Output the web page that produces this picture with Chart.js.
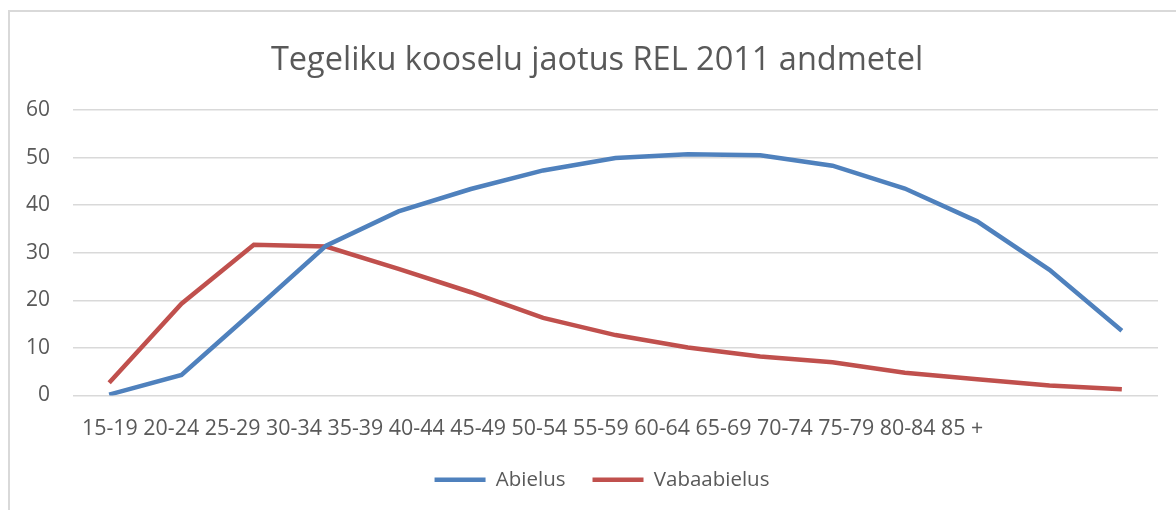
<!DOCTYPE html>
<html>
<head>
<meta charset="utf-8">
<script src="https://cdn.jsdelivr.net/npm/chart.js@4"></script>
<style>
    html, body { margin: 0; padding: 0; background: #ffffff; }
    #wrap { position: relative; width: 1176px; height: 510px; overflow: hidden; }
    #frame {
        position: absolute; left: 8px; top: 10px; right: -4px; bottom: -4px;
        border-left: 2px solid #d9d9d9; border-top: 2px solid #d9d9d9;
        pointer-events: none;
    }
</style>
</head>
<body>
<div id="wrap">
    <canvas id="line-plot" width="1176" height="510"></canvas>
    <div id="frame"></div>
</div>
<script>
const titleText = 'Tegeliku kooselu jaotus REL 2011 andmetel';
const categories = ['15-19', '20-24', '25-29', '30-34', '35-39', '40-44', '45-49', '50-54',
    '55-59', '60-64', '65-69', '70-74', '75-79', '80-84', '85 +'];
const abielus = [0.2, 4.3, 17.8, 31.5, 38.7, 43.4, 47.3, 49.9, 50.7, 50.5, 48.3, 43.5, 36.6, 26.4, 13.6];
const vabaabielus = [2.7, 19.3, 31.7, 31.3, 26.6, 21.7, 16.3, 12.7, 10.1, 8.2, 7.0, 4.8, 3.4, 2.1, 1.3];
const yTicks = [0, 10, 20, 30, 40, 50, 60];

const textColor = '#595959';
const fontFamily = '"Open Sans", "Liberation Sans", sans-serif';

// the category labels sit in one run of text under the plot, not under the points
const categoryText = {
    id: 'categoryText',
    afterLayout(chart) {
        // title and legend are centred on the whole frame, not on the plot
        chart.titleBlock.left += 18;
        chart.titleBlock.right += 18;
        chart.legend.left += 23;
        chart.legend.right += 23;
    },
    afterDraw(chart) {
        const ctx = chart.ctx;
        ctx.save();
        ctx.font = '21.4px ' + fontFamily;
        ctx.fillStyle = textColor;
        ctx.textAlign = 'left';
        ctx.textBaseline = 'middle';
        ctx.fillText(categories.join(' '), chart.chartArea.left + 9, chart.chartArea.bottom + 33);
        ctx.restore();
    }
};

let ctx = document.getElementById('line-plot').getContext('2d');
let ch = new Chart(ctx, {
    type: 'line',
    data: {
        labels: categories,
        datasets: [{
            label: 'Abielus',
            data: abielus,
            borderColor: '#4f81bd',
            backgroundColor: '#4f81bd',
            borderWidth: 4.5,
            pointRadius: 0,
            pointStyle: 'line',
            tension: 0
        }, {
            label: 'Vabaabielus',
            data: vabaabielus,
            borderColor: '#c0504d',
            backgroundColor: '#c0504d',
            borderWidth: 4.5,
            pointRadius: 0,
            pointStyle: 'line',
            tension: 0
        }]
    },
    options: {
        responsive: false,
        animation: false,
        layout: {
            padding: { left: 0, right: 18, top: 0, bottom: 10 }
        },
        scales: {
            x: {
                offset: true,
                grid: { display: false },
                border: { display: false },
                ticks: { display: false },
                afterFit(scale) { scale.height = 47; }
            },
            y: {
                min: 0,
                max: 60,
                afterBuildTicks(scale) { scale.ticks = yTicks.map(v => ({ value: v })); },
                grid: { color: '#d9d9d9', lineWidth: 1.5, drawTicks: false },
                border: { display: false },
                ticks: {
                    color: textColor,
                    font: { family: fontFamily, size: 21 },
                    padding: 23
                },
                afterFit(scale) { scale.width = 73; }
            }
        },
        plugins: {
            title: {
                display: true,
                text: titleText,
                color: textColor,
                font: { family: fontFamily, size: 32.5, weight: 'normal' },
                padding: { top: 41.5, bottom: 29.5 }
            },
            legend: {
                position: 'bottom',
                labels: {
                    usePointStyle: true,
                    pointStyleWidth: 51,
                    color: textColor,
                    font: { family: fontFamily, size: 20.5 },
                    padding: 27
                }
            },
            tooltip: { enabled: false }
        }
    },
    plugins: [categoryText]
});
</script>
</body>
</html>
